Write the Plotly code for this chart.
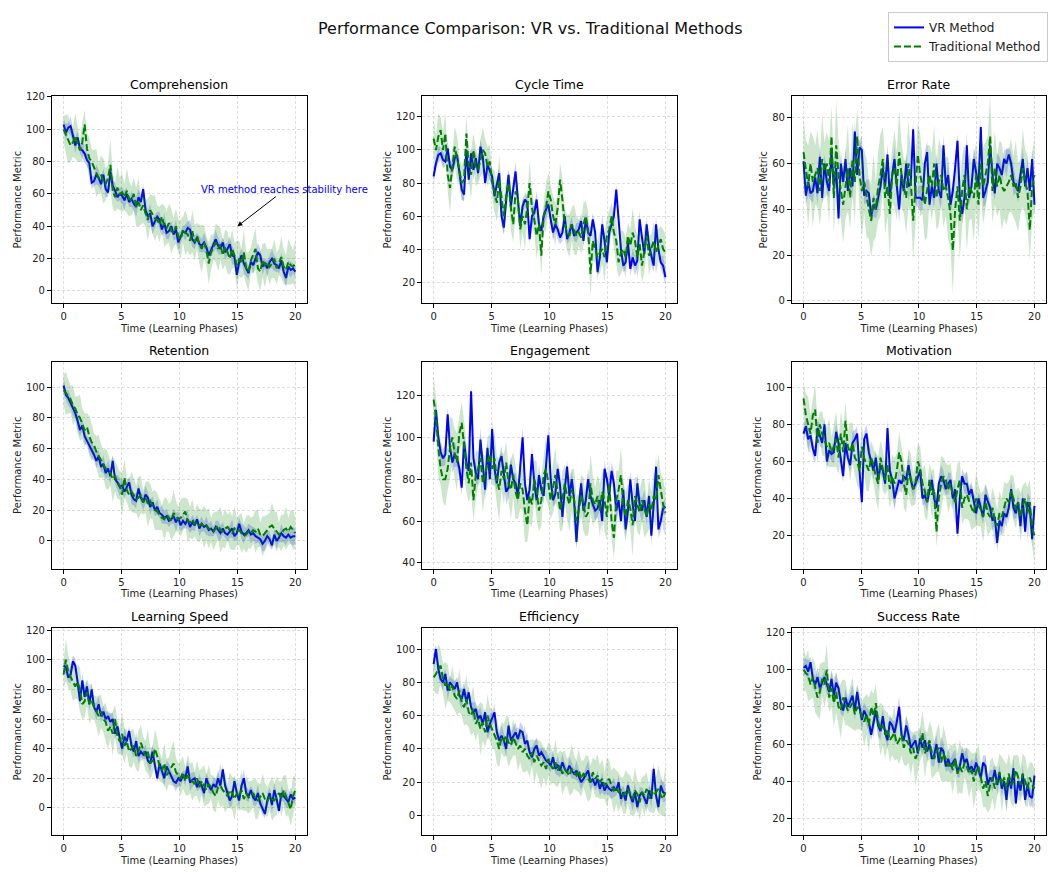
import numpy as np
import plotly.graph_objects as go

metrics = ["Comprehension", "Cycle Time", "Error Rate",
           "Retention", "Engagement", "Motivation",
           "Learning Speed", "Efficiency", "Success Rate"]

# ---------------- VR method values (100 samples over 0..20) ----------------
vr_comprehension = [103, 98, 101, 102, 96, 90, 95, 88, 87, 85,
                    81, 79, 67, 68, 72, 70, 66, 72, 63, 61,
                    74, 65, 62, 58, 60, 59, 56, 60, 55, 57,
                    54, 52, 58, 55, 63, 50, 46, 48, 40, 43,
                    46, 44, 38, 42, 36, 37, 40, 35, 38, 30,
                    33, 37, 36, 39, 38, 32, 30, 33, 29, 28,
                    30, 27, 22, 25, 28, 32, 28, 26, 30, 24,
                    26, 29, 22, 21, 10, 18, 22, 17, 14, 11,
                    18, 16, 20, 24, 22, 15, 17, 14, 18, 20,
                    17, 16, 14, 19, 12, 8, 15, 13, 14, 12]
vr_cycle_time = [84, 92, 97, 98, 94, 93, 101, 90, 88, 95,
                 97, 85, 76, 73, 100, 82, 98, 88, 95, 86,
                 102, 96, 80, 91, 87, 84, 72, 80, 86, 60,
                 53, 70, 85, 66, 78, 87, 70, 54, 66, 70,
                 68, 46, 60, 62, 70, 55, 51, 60, 64, 67,
                 58, 50, 55, 52, 47, 50, 60, 46, 50, 55,
                 48, 50, 52, 57, 45, 58, 50, 48, 58, 50,
                 26, 35, 55, 45, 32, 50, 55, 60, 76, 58,
                 40, 30, 32, 44, 28, 35, 30, 33, 58, 47,
                 37, 55, 42, 36, 30, 55, 40, 32, 30, 23]
vr_error_rate = [61, 46, 52, 47, 48, 54, 47, 63, 45, 60,
                 52, 48, 65, 50, 58, 36, 60, 52, 62, 48,
                 58, 50, 74, 55, 67, 66, 46, 48, 47, 37,
                 42, 40, 45, 50, 58, 50, 64, 45, 55, 62,
                 50, 40, 55, 48, 60, 50, 52, 75, 45, 45,
                 45, 44, 60, 65, 42, 50, 45, 60, 48, 45,
                 68, 50, 55, 42, 48, 58, 70, 45, 38, 45,
                 68, 45, 50, 62, 55, 50, 76, 45, 48, 52,
                 68, 55, 47, 60, 58, 55, 62, 60, 64, 60,
                 52, 50, 48, 55, 62, 50, 58, 48, 62, 42]
vr_retention = [101, 95, 93, 90, 86, 83, 78, 72, 75, 68,
                65, 62, 60, 56, 52, 55, 48, 50, 44, 47,
                42, 52, 40, 38, 35, 36, 32, 35, 38, 30,
                27, 26, 34, 28, 25, 30, 28, 22, 25, 20,
                22, 18, 17, 15, 16, 13, 14, 16, 12, 15,
                10, 13, 11, 14, 9, 12, 10, 14, 8, 11,
                9, 10, 7, 8, 6, 9, 7, 5, 8, 5,
                4, 6, 8, 3, 5, 11, 6, 4, 5, 7,
                4, 5, 3, 2, 1, -2, 0, 3, 1, -3,
                4, 0, 2, 5, 3, 2, 4, 2, 3, 3]
vr_engagement = [98, 113, 100, 93, 90, 92, 111, 95, 88, 92,
                 90, 85, 76, 98, 88, 84, 122, 90, 83, 80,
                 99, 85, 75, 95, 80, 104, 85, 78, 88, 91,
                 82, 74, 76, 87, 80, 78, 72, 85, 100, 78,
                 70, 75, 92, 78, 70, 82, 75, 72, 85, 101,
                 80, 70, 73, 85, 77, 62, 75, 86, 72, 80,
                 70, 50, 67, 78, 65, 70, 80, 72, 68, 65,
                 66, 70, 60, 85, 80, 72, 84, 78, 65, 70,
                 60, 75, 56, 65, 80, 68, 60, 78, 68, 65,
                 70, 62, 72, 53, 68, 86, 56, 60, 66, 67]
vr_motivation = [75, 79, 72, 74, 67, 63, 78, 74, 70, 80,
                 60, 66, 64, 65, 76, 70, 60, 52, 70, 62,
                 58, 70, 72, 75, 55, 38, 72, 75, 65, 60,
                 55, 62, 50, 58, 55, 48, 78, 55, 50, 40,
                 45, 50, 48, 52, 50, 58, 50, 45, 48, 52,
                 55, 40, 42, 38, 45, 50, 40, 35, 48, 52,
                 50, 45, 48, 50, 40, 45, 21, 40, 52, 48,
                 48, 42, 45, 38, 32, 40, 35, 30, 42, 38,
                 35, 28, 30, 16, 28, 25, 32, 30, 35, 45,
                 35, 32, 38, 25, 40, 22, 38, 35, 18, 36]
vr_learning_speed = [96, 95, 88, 90, 99, 96, 85, 72, 86, 75,
                     82, 70, 80, 68, 65, 70, 62, 65, 60, 62,
                     58, 60, 50, 55, 47, 40, 48, 45, 52, 42,
                     38, 45, 35, 38, 36, 38, 32, 30, 38, 28,
                     20, 30, 25, 20, 28, 25, 22, 18, 17, 20,
                     18, 22, 20, 28, 17, 19, 20, 14, 18, 15,
                     10, 20, 15, 12, 16, 14, 20, 15, 26, 15,
                     10, 5, 8, 18, 10, 5, 15, 20, 10, 8,
                     12, 7, 5, 10, 3, 0, -4, 5, 10, 2,
                     12, 6, -2, 10, 8, 6, 4, 9, 6, 7]
vr_efficiency = [91, 100, 88, 82, 80, 85, 75, 80, 78, 76,
                 80, 72, 70, 76, 68, 74, 65, 62, 64, 58,
                 60, 55, 62, 50, 55, 58, 62, 50, 45, 48,
                 45, 40, 54, 45, 48, 50, 46, 51, 50, 43,
                 45, 38, 35, 40, 42, 36, 38, 35, 33, 32,
                 30, 35, 28, 30, 27, 32, 28, 26, 30, 27,
                 25, 27, 24, 20, 22, 25, 27, 20, 22, 18,
                 22, 16, 20, 15, 18, 16, 15, 17, 15, 20,
                 10, 14, 9, 18, 12, 8, 14, 5, 12, 14,
                 10, 7, 15, 10, 28, 12, 5, 18, 14, 13]
vr_success_rate = [101, 102, 99, 104, 95, 92, 96, 90, 93, 96,
                   92, 88, 95, 86, 93, 90, 82, 78, 85, 80,
                   83, 86, 78, 88, 80, 73, 78, 75, 72, 65,
                   72, 78, 70, 67, 75, 66, 62, 72, 70, 66,
                   72, 80, 65, 62, 70, 65, 58, 60, 62, 55,
                   63, 58, 62, 56, 60, 52, 54, 60, 50, 58,
                   56, 48, 52, 48, 50, 52, 45, 48, 55, 50,
                   52, 46, 48, 45, 50, 46, 42, 50, 48, 38,
                   42, 40, 46, 38, 44, 36, 40, 30, 42, 36,
                   47, 28, 40, 35, 44, 30, 38, 32, 31, 43]

# ---------------- Traditional method values ----------------
trad_comprehension = [100, 97, 94, 90, 92, 96, 91, 87, 92, 103,
                      88, 82, 80, 76, 73, 70, 72, 68, 66, 70,
                      78, 62, 58, 64, 60, 61, 58, 62, 57, 56,
                      60, 52, 55, 50, 53, 48, 44, 50, 47, 45,
                      44, 41, 46, 40, 39, 42, 37, 36, 40, 34,
                      32, 38, 36, 35, 31, 37, 30, 34, 29, 26,
                      30, 25, 17, 24, 27, 30, 26, 29, 22, 27,
                      24, 20, 26, 22, 16, 20, 17, 24, 14, 12,
                      19, 22, 26, 14, 12, 19, 16, 18, 15, 17,
                      20, 14, 18, 21, 15, 13, 18, 16, 15, 17]
trad_cycle_time = [107, 100, 108, 112, 100, 110, 85, 77, 90, 102,
                   95, 88, 80, 82, 110, 90, 85, 100, 90, 88,
                   95, 100, 98, 90, 93, 80, 75, 68, 82, 70,
                   60, 72, 80, 65, 55, 75, 70, 52, 60, 55,
                   65, 80, 65, 58, 48, 55, 36, 60, 65, 75,
                   70, 60, 55, 65, 82, 70, 55, 50, 48, 55,
                   52, 48, 50, 47, 55, 60, 52, 25, 45, 40,
                   35, 38, 40, 35, 48, 52, 60, 50, 45, 32,
                   38, 40, 35, 48, 42, 50, 45, 35, 43, 30,
                   40, 48, 36, 40, 45, 38, 42, 46, 40, 38]
trad_error_rate = [65, 58, 50, 60, 52, 55, 58, 48, 62, 57,
                   60, 52, 72, 45, 68, 55, 48, 42, 50, 58,
                   45, 62, 52, 72, 55, 48, 52, 45, 40, 35,
                   45, 40, 50, 55, 62, 45, 50, 38, 55, 58,
                   50, 65, 55, 50, 45, 60, 52, 35, 48, 64,
                   55, 50, 42, 48, 55, 50, 60, 45, 52, 55,
                   48, 50, 45, 38, 22, 40, 50, 35, 48, 55,
                   40, 50, 48, 45, 55, 42, 60, 50, 55, 60,
                   72, 48, 58, 50, 55, 50, 48, 50, 52, 55,
                   50, 52, 45, 50, 58, 52, 48, 31, 50, 55]
trad_retention = [98, 96, 94, 92, 88, 86, 82, 80, 76, 72,
                  74, 68, 64, 62, 58, 55, 52, 50, 47, 45,
                  44, 40, 42, 38, 36, 30, 41, 33, 30, 32,
                  29, 27, 28, 30, 25, 28, 24, 26, 23, 20,
                  19, 17, 15, 14, 17, 15, 13, 18, 16, 14,
                  15, 17, 19, 13, 12, 14, 11, 12, 10, 11,
                  9, 10, 8, 7, 6, 8, 10, 7, 6, 8,
                  9, 7, 5, 8, 6, 7, 5, 3, 4, 6,
                  5, 7, 6, 8, 4, 3, 5, 7, 9, 10,
                  8, 6, 4, 5, 7, 8, 6, 9, 7, 5]
trad_engagement = [118, 110, 95, 85, 80, 80, 85, 95, 100, 92,
                   88, 102, 107, 95, 85, 78, 88, 70, 82, 85,
                   90, 78, 82, 88, 92, 85, 90, 80, 75, 84,
                   80, 88, 78, 75, 82, 74, 70, 78, 75, 65,
                   58, 72, 68, 80, 75, 65, 70, 82, 85, 78,
                   70, 76, 82, 74, 65, 70, 78, 72, 68, 75,
                   70, 60, 65, 72, 68, 62, 64, 78, 70, 68,
                   72, 65, 74, 70, 62, 78, 60, 52, 70, 75,
                   82, 68, 62, 70, 66, 58, 72, 68, 64, 70,
                   66, 62, 68, 65, 72, 70, 82, 75, 68, 64]
trad_motivation = [94, 85, 80, 75, 85, 88, 70, 80, 75, 72,
                   68, 70, 65, 68, 72, 62, 75, 65, 82, 68,
                   65, 70, 62, 60, 55, 68, 62, 58, 55, 62,
                   58, 52, 48, 62, 55, 50, 58, 45, 52, 48,
                   55, 65, 60, 48, 42, 55, 50, 45, 48, 60,
                   56, 48, 44, 38, 50, 42, 45, 22, 40, 48,
                   52, 50, 45, 48, 42, 38, 45, 50, 35, 40,
                   42, 38, 35, 32, 40, 36, 34, 30, 38, 32,
                   30, 35, 28, 25, 32, 30, 35, 40, 38, 44,
                   40, 34, 38, 30, 36, 40, 32, 38, 24, 20]
trad_learning_speed = [90, 100, 92, 88, 85, 82, 85, 80, 70, 72,
                       78, 70, 72, 68, 65, 62, 65, 60, 58, 52,
                       55, 50, 60, 48, 45, 50, 42, 45, 38, 40,
                       42, 35, 38, 44, 40, 35, 38, 30, 32, 40,
                       35, 28, 25, 30, 22, 25, 28, 30, 24, 22,
                       20, 24, 18, 22, 20, 18, 16, 20, 14, 18,
                       15, 12, 16, 14, 10, 8, 14, 15, 12, 10,
                       8, 12, 10, 6, 10, 8, 12, 6, 10, 7,
                       8, 10, 6, 5, 8, 10, 6, 4, 8, 6,
                       5, 8, 10, 6, 12, 8, 4, -1, 8, 12]
trad_efficiency = [83, 85, 88, 90, 82, 78, 80, 75, 78, 72,
                   70, 75, 68, 65, 70, 62, 60, 64, 55, 58,
                   52, 56, 50, 60, 55, 52, 48, 45, 40, 47,
                   45, 48, 44, 42, 47, 44, 40, 42, 38, 40,
                   36, 34, 38, 32, 36, 33, 30, 32, 28, 34,
                   30, 28, 32, 27, 30, 25, 28, 26, 24, 28,
                   26, 24, 27, 22, 25, 24, 22, 20, 26, 22,
                   24, 20, 22, 18, 20, 22, 18, 15, 17, 14,
                   15, 12, 14, 16, 12, 10, 15, 13, 8, 14,
                   12, 16, 10, 15, 12, 14, 16, 12, 10, 14]
trad_success_rate = [100, 98, 97, 92, 96, 90, 85, 88, 95, 92,
                     100, 85, 90, 82, 88, 80, 78, 85, 82, 78,
                     80, 82, 76, 80, 78, 75, 72, 76, 70, 80,
                     75, 82, 72, 68, 70, 65, 68, 62, 64, 66,
                     60, 62, 65, 58, 62, 60, 55, 58, 52, 56,
                     60, 66, 55, 58, 62, 55, 52, 56, 58, 50,
                     55, 52, 48, 50, 46, 52, 44, 48, 45, 50,
                     48, 44, 46, 40, 45, 48, 42, 36, 40, 32,
                     38, 42, 36, 40, 45, 38, 42, 36, 44, 38,
                     40, 46, 42, 38, 44, 40, 36, 42, 38, 36]

# ---------------- band half-widths (spread) ----------------
vr_spread_a = [4, 5, 3, 6, 4, 5, 4, 3, 5, 6, 4, 5, 4, 3, 6, 5, 4, 4, 5, 3,
               6, 4, 5, 3, 4, 5, 6, 4, 3, 5, 4, 6, 5, 4, 3, 5, 4, 6, 5, 4,
               3, 5, 4, 6, 4, 5, 3, 4, 6, 5, 4, 3, 5, 4, 6, 5, 4, 3, 5, 4,
               6, 4, 5, 3, 4, 6, 5, 4, 3, 5, 4, 5, 6, 4, 3, 5, 4, 6, 5, 4,
               3, 5, 4, 6, 4, 5, 3, 5, 4, 6, 5, 4, 3, 5, 4, 6, 4, 5, 3, 4]
vr_spread_b = [6, 3, 5, 4, 5, 3, 6, 4, 4, 5, 3, 5, 6, 4, 5, 4, 3, 6, 4, 5,
               5, 4, 3, 5, 6, 4, 5, 3, 4, 6, 4, 5, 3, 4, 5, 6, 3, 5, 4, 4,
               5, 3, 6, 4, 5, 4, 3, 5, 6, 4, 4, 5, 3, 6, 4, 5, 4, 3, 5, 5,
               3, 6, 4, 5, 3, 4, 6, 5, 4, 3, 5, 4, 6, 3, 5, 4, 5, 6, 3, 4,
               6, 4, 5, 3, 4, 5, 6, 4, 5, 3, 4, 5, 3, 6, 4, 5, 3, 4, 6, 5]
vr_spread_c = [5, 4, 6, 3, 5, 4, 5, 6, 3, 4, 5, 3, 4, 6, 5, 4, 6, 3, 5, 4,
               4, 6, 5, 4, 3, 6, 4, 5, 6, 3, 5, 4, 6, 5, 4, 3, 5, 4, 3, 6,
               4, 6, 5, 3, 5, 6, 4, 5, 3, 4, 6, 4, 5, 5, 3, 4, 6, 5, 4, 6,
               5, 3, 6, 4, 5, 5, 3, 6, 4, 5, 6, 3, 4, 5, 6, 3, 5, 4, 6, 5,
               4, 6, 3, 5, 5, 4, 4, 6, 3, 5, 6, 3, 5, 4, 5, 3, 5, 6, 4, 5]
trad_spread_a = [8, 12, 15, 10, 9, 14, 11, 7, 12, 9, 10, 13, 8, 11, 15, 9, 12, 14, 10, 8,
                 16, 11, 9, 13, 10, 12, 8, 14, 11, 9, 10, 12, 15, 9, 11, 8, 13, 10, 12, 14,
                 9, 11, 8, 13, 10, 12, 14, 9, 11, 10, 12, 8, 14, 10, 9, 13, 11, 8, 12, 15,
                 10, 9, 13, 11, 8, 12, 14, 10, 9, 11, 13, 10, 12, 8, 15, 11, 9, 14, 10, 12,
                 8, 11, 13, 9, 12, 10, 14, 8, 11, 9, 12, 10, 8, 13, 11, 9, 14, 12, 10, 15]
trad_spread_b = [12, 9, 14, 8, 11, 13, 10, 15, 9, 12, 14, 8, 10, 13, 11, 9, 15, 10, 12, 8,
                 11, 14, 9, 12, 10, 8, 13, 11, 15, 9, 12, 10, 8, 14, 11, 13, 9, 12, 10, 15,
                 8, 13, 11, 9, 14, 10, 12, 8, 15, 11, 9, 12, 13, 8, 10, 14, 9, 11, 13, 10,
                 15, 12, 8, 10, 13, 9, 11, 14, 12, 8, 10, 13, 9, 15, 11, 12, 8, 10, 14, 9,
                 13, 11, 12, 8, 10, 15, 9, 13, 11, 10, 14, 8, 12, 9, 11, 13, 10, 8, 12, 11]
trad_spread_c = [10, 14, 11, 9, 13, 8, 12, 15, 10, 11, 9, 13, 12, 8, 10, 14, 11, 9, 13, 12,
                 8, 15, 10, 11, 9, 14, 12, 8, 10, 13, 11, 9, 14, 12, 8, 10, 15, 11, 9, 13,
                 12, 10, 8, 14, 11, 9, 13, 15, 10, 8, 12, 11, 9, 14, 10, 13, 8, 12, 11, 9,
                 14, 10, 13, 8, 12, 11, 9, 15, 10, 13, 8, 12, 11, 14, 9, 10, 13, 8, 12, 11,
                 10, 9, 14, 12, 8, 13, 11, 10, 9, 15, 11, 13, 8, 12, 10, 14, 9, 11, 13, 10]
trad_spread_err = [16, 12, 18, 14, 20, 13, 17, 15, 19, 12, 14, 18, 13, 16, 20, 15, 12, 17, 14, 19,
                   13, 16, 18, 12, 15, 20, 14, 17, 13, 16, 19, 12, 15, 18, 14, 16, 13, 20, 12, 17,
                   15, 18, 14, 12, 16, 19, 13, 17, 15, 14, 18, 12, 16, 20, 13, 15, 17, 14, 19, 12,
                   16, 13, 18, 15, 19, 14, 12, 17, 16, 13, 18, 15, 12, 19, 14, 16, 13, 17, 15, 12,
                   18, 14, 16, 13, 15, 19, 12, 17, 14, 16, 13, 18, 15, 12, 17, 14, 16, 13, 15, 16]

vr_series = [vr_comprehension, vr_cycle_time, vr_error_rate, vr_retention, vr_engagement,
             vr_motivation, vr_learning_speed, vr_efficiency, vr_success_rate]
trad_series = [trad_comprehension, trad_cycle_time, trad_error_rate, trad_retention, trad_engagement,
               trad_motivation, trad_learning_speed, trad_efficiency, trad_success_rate]
vr_spreads = [vr_spread_a, vr_spread_b, vr_spread_c, vr_spread_b, vr_spread_a,
              vr_spread_c, vr_spread_a, vr_spread_b, vr_spread_c]
trad_spreads = [trad_spread_a, trad_spread_b, trad_spread_err, trad_spread_c, trad_spread_b,
                trad_spread_a, trad_spread_c, trad_spread_a, trad_spread_b]

for v, t, a, b in zip(vr_series, trad_series, vr_spreads, trad_spreads):
    assert len(v) == len(t) == len(a) == len(b), (len(v), len(t), len(a), len(b))

# ---------------- layout geometry ----------------
X_DOMAINS = [(0.0496, 0.2929), (0.4027, 0.6460), (0.7557, 0.9981)]
Y_DOMAINS = [(0.6548, 0.8945), (0.3475, 0.5872), (0.0390, 0.2787)]
Y_RANGES = [(-7.6, 120.5), (7.2, 132.6), (-1.1, 89.5),
            (-18.2, 116.5), (37.2, 136.2), (2.0, 113.9),
            (-18.5, 121.3), (-11.9, 112.5), (10.9, 122.3)]

BLUE = "#0000ff"
GREEN = "#008000"
FONT = "DejaVu Sans"

fig = go.Figure()
annotations = []

for k, name in enumerate(metrics):
    r, c = divmod(k, 3)
    ax_id = "" if k == 0 else str(k + 1)
    xref, yref = "x" + ax_id, "y" + ax_id
    vr = np.array(vr_series[k], dtype=float)
    tr = np.array(trad_series[k], dtype=float)
    vs = np.array(vr_spreads[k], dtype=float)
    ts = np.array(trad_spreads[k], dtype=float)
    t = np.linspace(0, 20, len(vr))

    fig.add_trace(go.Scatter(x=t, y=vr, mode="lines", line=dict(color=BLUE, width=2),
                             name="VR Method", legendgroup="vr", showlegend=(k == 0),
                             xaxis=xref, yaxis=yref))
    fig.add_trace(go.Scatter(x=np.concatenate([t, t[::-1]]),
                             y=np.concatenate([vr + vs, (vr - vs)[::-1]]),
                             fill="toself", fillcolor="rgba(0,0,255,0.2)", line=dict(width=0),
                             hoverinfo="skip", showlegend=False, xaxis=xref, yaxis=yref))
    fig.add_trace(go.Scatter(x=t, y=tr, mode="lines", line=dict(color=GREEN, width=2, dash="7px,3px"),
                             name="Traditional Method", legendgroup="tr", showlegend=(k == 0),
                             xaxis=xref, yaxis=yref))
    fig.add_trace(go.Scatter(x=np.concatenate([t, t[::-1]]),
                             y=np.concatenate([tr + ts, (tr - ts)[::-1]]),
                             fill="toself", fillcolor="rgba(0,128,0,0.2)", line=dict(width=0),
                             hoverinfo="skip", showlegend=False, xaxis=xref, yaxis=yref))

    axis_common = dict(showline=True, mirror=True, linecolor="black", linewidth=1,
                       ticks="outside", ticklen=4, tickcolor="black",
                       showgrid=True, gridcolor="#dedede", griddash="3px,2px", gridwidth=1,
                       zeroline=False, tickfont=dict(family=FONT, size=10, color="#222"))
    fig.update_layout({
        "xaxis" + ax_id: dict(axis_common, domain=X_DOMAINS[c], anchor=yref, range=[-1, 21],
                              tickvals=[0, 5, 10, 15, 20],
                              title=dict(text="Time (Learning Phases)", standoff=3,
                                         font=dict(family=FONT, size=10, color="#222"))),
        "yaxis" + ax_id: dict(axis_common, domain=Y_DOMAINS[r], anchor=xref, range=list(Y_RANGES[k]),
                              dtick=20,
                              title=dict(text="Performance Metric", standoff=2,
                                         font=dict(family=FONT, size=10, color="#222"))),
    })
    annotations.append(dict(text=name, xref="paper", yref="paper",
                            x=(X_DOMAINS[c][0] + X_DOMAINS[c][1]) / 2, y=Y_DOMAINS[r][1],
                            xanchor="center", yanchor="bottom", yshift=2, showarrow=False,
                            font=dict(family=FONT, size=12.5, color="black")))

annotations.append(dict(text="VR method reaches stability here", x=15, y=40, ax=19.1, ay=62.7,
                        xref="x", yref="y", axref="x", ayref="y", showarrow=True,
                        arrowhead=2, arrowsize=1, arrowwidth=1, arrowcolor="black",
                        font=dict(family=FONT, size=10, color=BLUE)))

fig.update_layout(
    width=1048, height=872,
    margin=dict(l=0, r=0, t=0, b=0),
    paper_bgcolor="white", plot_bgcolor="white",
    font=dict(family=FONT, color="#222"),
    title=dict(text="Performance Comparison: VR vs. Traditional Methods", x=0.506, y=0.968,
               xanchor="center", yanchor="middle", font=dict(family=FONT, size=16, color="#111")),
    legend=dict(x=1.0, y=0.992, xanchor="right", yanchor="top", bgcolor="white",
                bordercolor="#cccccc", borderwidth=1, font=dict(family=FONT, size=12),
                tracegroupgap=0, itemwidth=30),
    annotations=annotations,
    showlegend=True,
)

fig.write_html("out.html", config={"displayModeBar": False},
               post_script="document.body.style.margin='0';document.body.style.overflow='hidden';")
